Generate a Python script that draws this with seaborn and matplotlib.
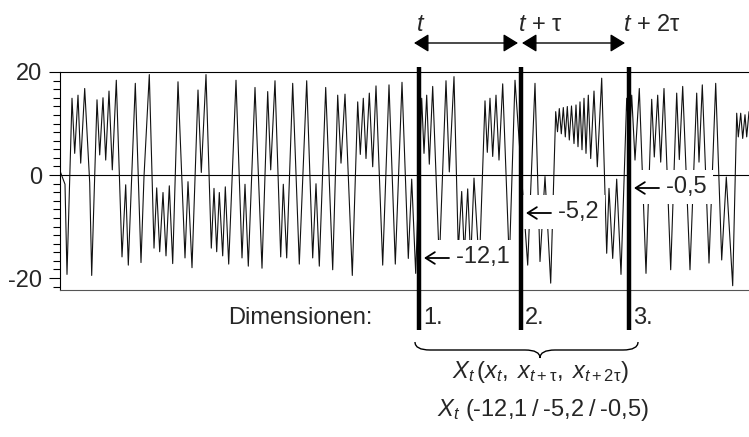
import matplotlib
matplotlib.use("Agg")
import numpy as np
import pandas as pd
import matplotlib.pyplot as plt
import seaborn as sns
from matplotlib import transforms
from matplotlib.lines import Line2D
from matplotlib.patches import FancyArrowPatch, PathPatch
from matplotlib.path import Path
from matplotlib.ticker import MultipleLocator

# ---- data (time position, value) ----
time = [60.0, 65.0, 67.0, 72.0, 74.7, 78.0, 80.7, 84.7, 89.7, 91.7, 97.0, 99.7, 103.0, 105.7,
        109.0, 112.3, 116.3, 122.0, 125.7, 128.3, 135.3, 141.0, 144.0, 149.3, 154.0, 156.7,
        159.7, 163.0, 166.0, 169.3, 172.7, 178.0, 185.0, 188.0, 192.0, 198.0, 201.3, 206.0,
        211.3, 214.0, 216.7, 219.3, 222.7, 225.3, 228.7, 236.0, 242.0, 245.0, 248.3, 255.0,
        262.0, 267.7, 270.7, 275.0, 280.7, 283.3, 286.7, 292.7, 299.3, 306.7, 312.7, 316.0,
        319.3, 325.7, 332.7, 337.7, 341.0, 345.0, 352.3, 357.7, 360.3, 363.3, 366.0, 369.3,
        372.7, 376.0, 382.7, 389.0, 395.3, 402.0, 408.3, 411.7, 415.7, 421.7, 424.0, 426.7,
        429.3, 432.7, 439.3, 446.0, 449.3, 454.0, 458.3, 461.7, 464.3, 467.7, 470.7, 474.0,
        479.3, 485.0, 487.3, 490.0, 492.7, 496.0, 499.0, 502.7, 509.3, 515.0, 527.7, 535.0,
        540.0, 545.0, 550.7, 555.7, 557.5, 559.3, 561.3, 563.3, 565.3, 567.3, 569.3, 571.5,
        574.0, 576.0, 578.0, 580.0, 582.0, 584.0, 586.0, 588.3, 590.7, 594.0, 597.3, 601.7,
        606.7, 609.0, 612.7, 616.7, 621.0, 626.7, 629.3, 631.7, 635.0, 639.3, 646.0, 651.7,
        654.3, 657.7, 660.7, 664.0, 670.7, 676.7, 679.3, 682.7, 690.0, 696.7, 699.0, 702.3,
        709.0, 715.7, 721.7, 726.3, 732.7, 736.7, 738.3, 740.7, 742.7, 745.0, 746.7, 749.0]
values = [0.8, -1.8, -19.3, 14.9, 4.2, 15.5, 2.3, 16.8, -1.5, -19.5, 14.6, 3.9, 15.0, 2.9,
          16.3, 1.0, 18.4, -15.9, -1.9, -17.5, 17.8, -17.0, -0.3, 19.5, -14.2, -2.5,
          -14.9, -3.4, -15.7, -2.1, -17.2, 18.1, -16.1, -1.3, -18.0, 16.5, 0.5, 19.5,
          -14.2, -2.6, -14.9, -3.4, -15.7, -2.3, -17.3, 18.4, -16.1, -1.8, -17.7, 17.0,
          -18.1, 16.2, 1.0, 18.3, -15.9, -1.8, -16.1, 17.8, -17.3, 18.3, -16.1, -1.7,
          -17.7, 17.0, -18.4, 15.5, 2.3, 15.7, -19.5, 14.2, 4.0, 14.9, 3.2, 15.9,
          1.6, 17.3, -17.5, 17.5, -17.3, 18.0, -16.2, -0.8, -19.1, 14.9, 4.2, 15.5,
          2.1, 17.2, -17.0, 18.3, 0.6, 19.1, -14.5, -3.2, -15.5, -2.7, -16.5, -0.6,
          -18.0, 14.4, 4.4, 14.9, 3.6, 15.5, 2.9, 17.7, -17.0, 18.4, -17.5, 17.8,
          -16.8, -0.3, -21.0, 12.3, 8.4, 12.9, 8.0, 13.1, 7.4, 13.3, 6.8, 13.4,
          6.1, 13.6, 5.5, 14.2, 4.9, 14.9, 4.2, 15.5, 3.2, 16.3, 1.6, 18.8,
          -15.2, -2.6, -16.2, -0.8, -19.3, 14.9, 7.0, 15.5, 2.9, 16.8, -19.1, 14.7,
          3.5, 15.5, 2.5, 16.8, -18.4, 15.9, 3.0, 17.2, -18.4, 15.9, 2.5, 17.5,
          -17.1, 17.8, -16.5, -0.4, -21.5, 12.0, 7.4, 12.0, 7.1, 11.7, 7.4, 12.3]

y_ticks = [-20, 0, 20]
dim_times = [419, 521, 629]
dim_values = [-12.1, -5.2, -0.5]
dim_labels = ["1.", "2.", "3."]
top_labels = ["$t$", "$t$ + τ", "$t$ + 2τ"]

# ---- style ----
sns.set_style("ticks")
plt.rcParams["font.family"] = ["Liberation Sans", "DejaVu Sans"]
plt.rcParams["mathtext.fontset"] = "custom"
plt.rcParams["mathtext.rm"] = "Liberation Sans"
plt.rcParams["mathtext.it"] = "Liberation Sans:italic"
plt.rcParams["mathtext.bf"] = "Liberation Sans:bold"

W, H = 749, 437
FS = 17
fig = plt.figure(figsize=(W / 100, H / 100), dpi=100)
ax = fig.add_axes([60 / W, 1 - 290 / H, 689 / W, 218 / H])

df = pd.DataFrame({"time": time, "value": values})
sns.lineplot(data=df, x="time", y="value", ax=ax, color="#111111", linewidth=0.8,
             estimator=None, sort=False)

ax.set_xlim(60, 749)
ax.set_ylim(-22.33, 20)
ax.axhline(0, color="black", lw=0.8, zorder=1)
ax.set_xticks([])
ax.set_yticks(y_ticks)
ax.set_yticklabels([str(v) for v in y_ticks])
ax.yaxis.set_minor_locator(MultipleLocator(20 / 12))
ax.tick_params(axis="y", which="major", length=8, width=0.8, labelsize=FS, pad=5, color="black")
ax.tick_params(axis="y", which="minor", length=5, width=0.8, color="black")
ax.set_xlabel("")
ax.set_ylabel("")
ax.spines["right"].set_visible(False)
for s in ["top", "bottom", "left"]:
    ax.spines[s].set_linewidth(0.8)
    ax.spines[s].set_color("black")
ax.spines["bottom"].set_color("#555555")


def fy(py):
    return 1 - py / H


blend = transforms.blended_transform_factory(ax.transData, fig.transFigure)

# thick dimension lines
for t in dim_times:
    fig.add_artist(Line2D([t, t], [fy(67), fy(330)], transform=blend, color="black",
                          lw=3.2, solid_capstyle="butt", zorder=6))

# double arrows at the top
arrow_spans = [(dim_times[0] - 5, dim_times[1] - 3), (dim_times[1] + 1, dim_times[2] - 4)]
for a, b in arrow_spans:
    fig.add_artist(FancyArrowPatch((a, fy(43)), (b, fy(43)), transform=blend,
                                   arrowstyle="<|-|>,head_length=0.9,head_width=0.55",
                                   mutation_scale=10, lw=1, color="black",
                                   shrinkA=0, shrinkB=0, zorder=6))

top_x = [dim_times[0] - 3, dim_times[1] - 3, dim_times[2] - 6]
for x, lab in zip(top_x, top_labels):
    fig.text(x, fy(25), lab, transform=blend, ha="left", va="center", fontsize=FS)

# value annotations with white boxes and long left arrows
ann_y = [257, 212, 187]
for t, v, py in zip(dim_times, dim_values, ann_y):
    txt = "     " + f"{v:.1f}".replace(".", ",")
    ax.text(t + 4, fy(py), txt, transform=blend, ha="left", va="center", fontsize=FS,
            bbox=dict(boxstyle="square,pad=0.25", fc="white", ec="none"), zorder=5,
            clip_on=False)
    fig.add_artist(FancyArrowPatch((t + 30, fy(py + 1)), (t + 5, fy(py + 1)), transform=blend,
                                   arrowstyle="->,head_length=0.55,head_width=0.35",
                                   mutation_scale=12, lw=1.3, color="black",
                                   shrinkA=0, shrinkB=0, zorder=7))

# Dimensionen row
fig.text(372 / W, fy(318), "Dimensionen:", ha="right", va="center", fontsize=FS)
for t, lab in zip(dim_times, dim_labels):
    fig.text(t + 4, fy(318), lab, transform=blend, ha="left", va="center", fontsize=FS)

# curly brace
pts = [(415, 342), (415, 350), (430, 350), (525, 350), (540, 350), (540, 358),
       (540, 350), (555, 350), (623, 350), (638, 350), (638, 342)]
codes = [Path.MOVETO, Path.CURVE3, Path.CURVE3, Path.LINETO, Path.CURVE3, Path.CURVE3,
         Path.CURVE3, Path.CURVE3, Path.LINETO, Path.CURVE3, Path.CURVE3]
verts = [(x / W, fy(y)) for x, y in pts]
fig.add_artist(PathPatch(Path(verts, codes), transform=fig.transFigure, fill=False,
                         lw=1.0, ec="black"))

# vector texts
fig.text(540 / W, fy(372), r"$X_t\,(x_t,\;x_{t+\mathrm{τ}},\;x_{t+2\mathrm{τ}})$",
         ha="center", va="center", fontsize=FS)
vals = "\u2009/\u2009".join(f"{v:.1f}".replace(".", ",") for v in dim_values)
fig.text(543 / W, fy(410), r"$X_t$ (" + vals + ")", ha="center", va="center", fontsize=FS)

fig.savefig("out.png", dpi=100)
